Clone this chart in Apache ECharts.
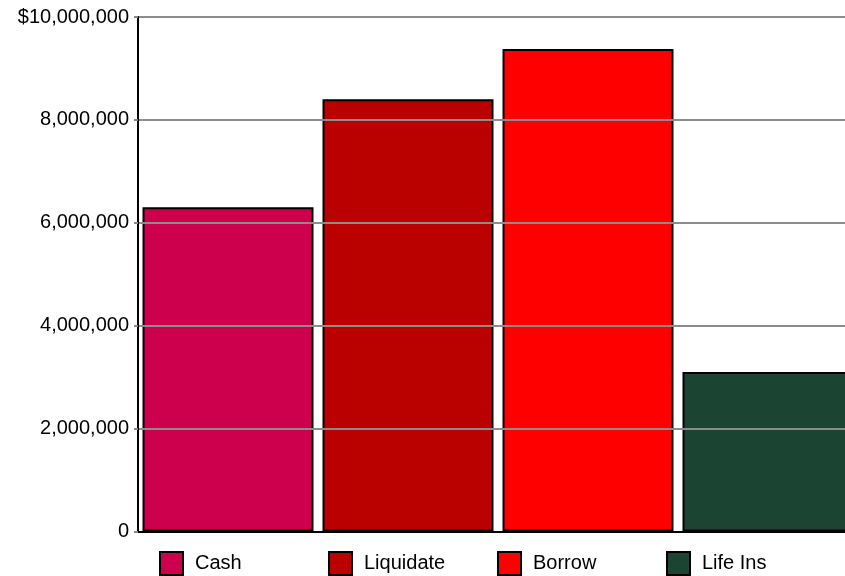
<!DOCTYPE html>
<html>
<head>
<meta charset="utf-8">
<script src="https://cdn.jsdelivr.net/npm/echarts@6/dist/echarts.min.js"></script>
<style>
html,body{margin:0;padding:0;background:#fff;overflow:hidden;width:845px;height:576px;}
#chart{width:858px;height:576px;}
</style>
</head>
<body>
<div id="chart"></div>
<script>
const categories = ['Cash', 'Liquidate', 'Borrow', 'Life Ins'];
const values = [6300000, 8400000, 9380000, 3100000];
const colors = ['#cc004c', '#bb0000', '#ff0000', '#1b4433'];
const yMin = 0, yMax = 10000000, yStep = 2000000;
const legendLefts = [159, 328, 497, 666];

const FONT = "'Liberation Sans', Arial, sans-serif";
const fmt = v => v.toLocaleString('en-US');

const series = categories.map((name, i) => ({
  name: name,
  type: 'bar',
  barWidth: 171,
  barGap: '-100%',
  data: categories.map((c, j) => j === i ? values[i] : '-'),
  itemStyle: { color: colors[i], borderColor: '#000', borderWidth: 2 },
  emphasis: { disabled: true },
  z: 2
}));

const legends = categories.map((name, i) => ({
  data: [name],
  left: legendLefts[i],
  top: 551,
  padding: 0,
  itemWidth: 23,
  itemHeight: 23,
  icon: 'rect',
  selectedMode: false,
  itemStyle: { borderColor: '#000', borderWidth: 2 },
  textStyle: { fontFamily: FONT, fontSize: 20, color: '#000', padding: [2, 0, 0, 7] }
}));

const chart = echarts.init(document.getElementById('chart'), null, { renderer: 'canvas' });
chart.setOption({
  animation: false,
  backgroundColor: '#fff',
  grid: { left: 138, top: 17, right: 0, height: 514.5, containLabel: false },
  legend: legends,
  xAxis: {
    type: 'category',
    data: categories,
    boundaryGap: true,
    axisLine: { show: true, lineStyle: { color: '#000', width: 2 } },
    axisTick: { show: false },
    axisLabel: { show: false },
    splitLine: { show: false },
    z: 5
  },
  yAxis: {
    type: 'value',
    min: yMin,
    max: yMax,
    interval: yStep,
    axisLine: { show: true, lineStyle: { color: '#000', width: 2 } },
    axisTick: { show: true, length: 4, lineStyle: { color: '#888', width: 2 } },
    axisLabel: {
      margin: 9,
      fontFamily: FONT,
      fontSize: 20,
      color: '#000',
      formatter: v => (v === yMax ? '$' : '') + fmt(v)
    },
    splitLine: { show: true, lineStyle: { color: '#8c8c8c', width: 2 } },
    z: 5
  },
  series: series
});
</script>
</body>
</html>
